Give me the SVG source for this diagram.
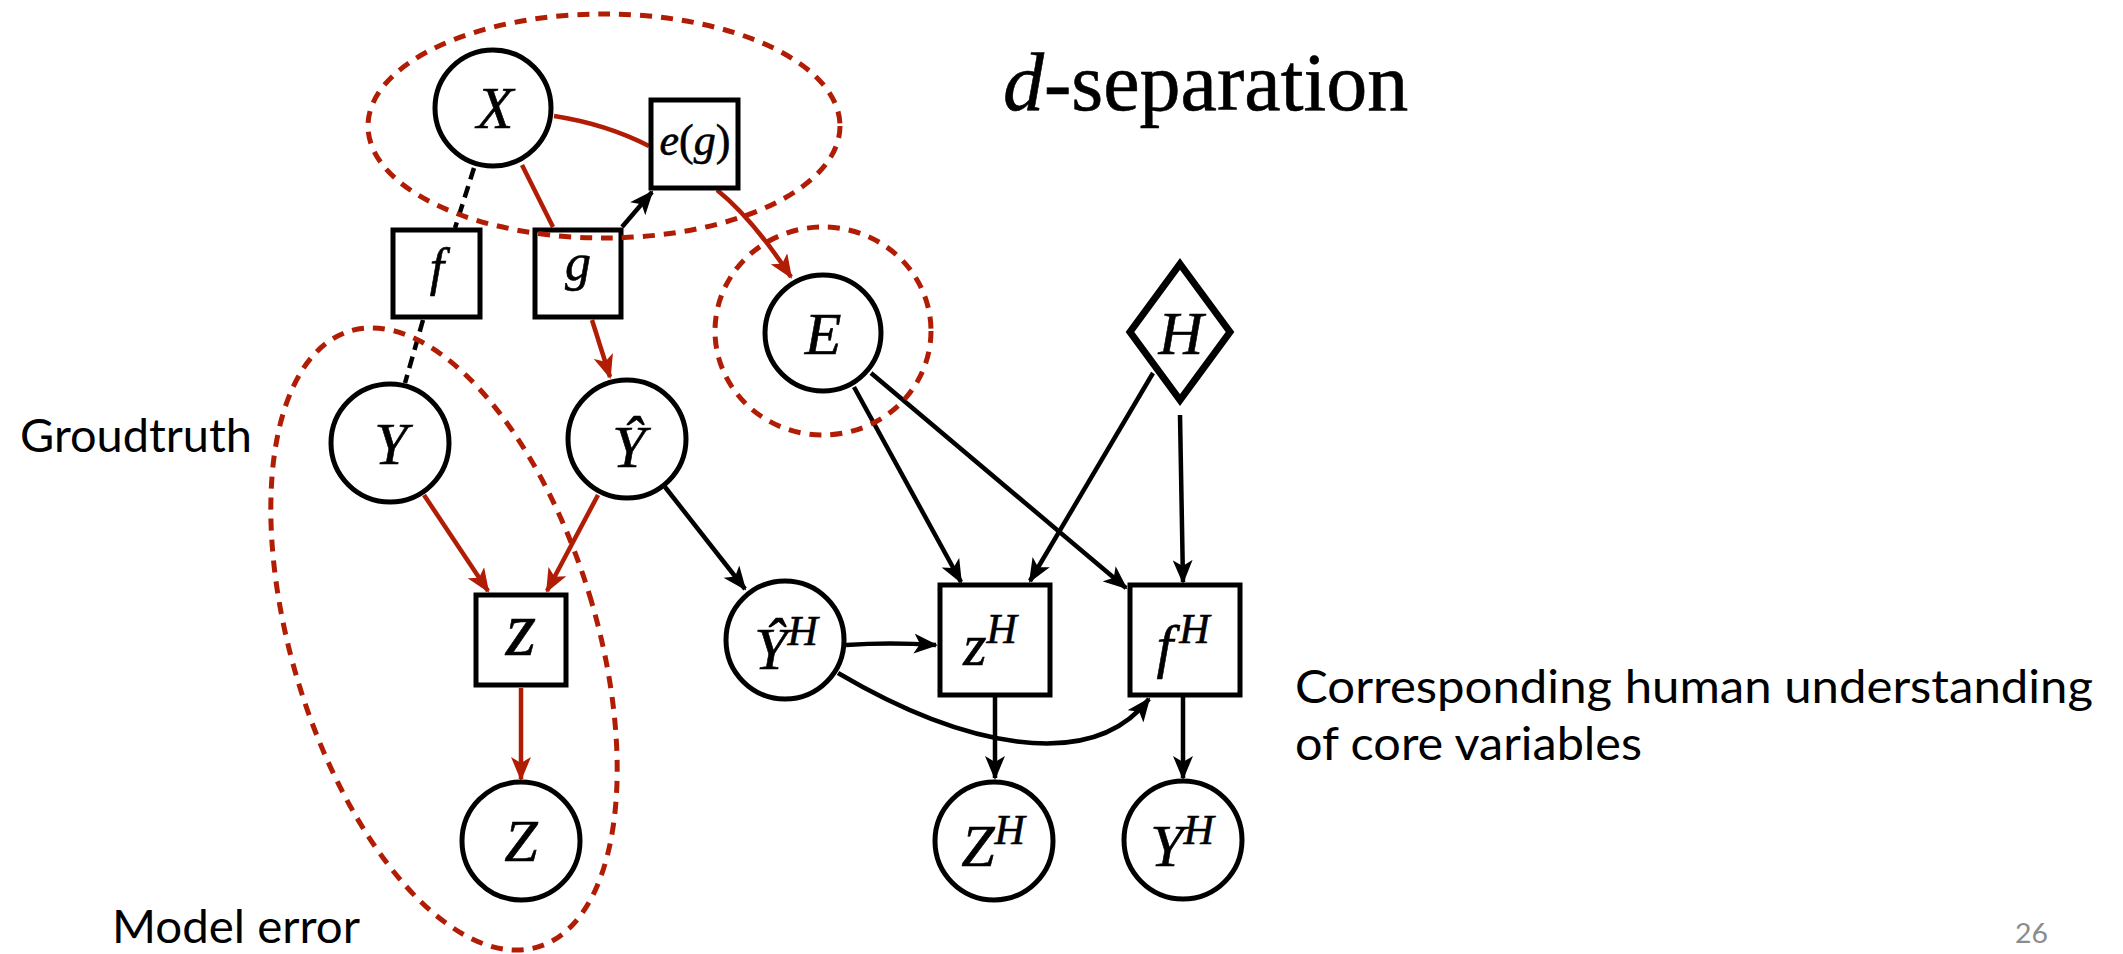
<svg xmlns="http://www.w3.org/2000/svg" width="2123" height="954" viewBox="0 0 2123 954">
  <style>
    .node { fill: #fff; stroke: #000; stroke-width: 5; }
    .diamond { fill: #fff; stroke: #000; stroke-width: 7; stroke-linejoin: miter; stroke-miterlimit: 10; }
    .lbl { font-family: "Liberation Serif", "DejaVu Serif", serif; font-style: italic; font-size: 60px; fill: #000; stroke: #000; stroke-width: 0.6; text-anchor: middle; }
    .sup { font-size: 42px; }
    .up { font-style: normal; }
    .edge { fill: none; stroke: #000; stroke-width: 4.5; }
    .edge.red { stroke: #b11d04; }
    .edge.dash { stroke-dasharray: 12 7; }
    .arrow { marker-end: url(#ah); }
    .arrow.red { marker-end: url(#ah-red); }
    .region { fill: none; stroke: #b11d04; stroke-width: 5; stroke-dasharray: 12 9; }
    .note { font-family: Lato, "Open Sans", "Liberation Sans", sans-serif; font-size: 46px; fill: #000; }
    .title { font-family: "Liberation Serif", "DejaVu Serif", serif; font-size: 82px; fill: #000; stroke: #000; stroke-width: 0.6; }
  </style>
  <defs>
    <marker id="ah" viewBox="0 0 24 20" refX="22" refY="10" markerWidth="24" markerHeight="20" markerUnits="userSpaceOnUse" orient="auto">
      <path d="M0,0 L24,10 L0,20 L6,10 Z" fill="#000"/>
    </marker>
    <marker id="ah-red" viewBox="0 0 24 20" refX="22" refY="10" markerWidth="24" markerHeight="20" markerUnits="userSpaceOnUse" orient="auto">
      <path d="M0,0 L24,10 L0,20 L6,10 Z" fill="#b11d04"/>
    </marker>
  </defs>

  <rect width="2123" height="954" fill="#fff"/>

  <!-- connectors -->
  <g id="connectors">
    <path class="edge red" d="M554,116 Q606,124 649,146"/>
    <path class="edge red" d="M522,165 L553,227"/>
    <path class="edge dash" d="M474,168 L455,228"/>
    <path class="edge arrow" d="M622,227 L652,192"/>
    <path class="edge red arrow red" d="M717,190 Q752,218 791,277"/>
    <path class="edge red arrow red" d="M592,320 L610,377"/>
    <path class="edge dash" d="M423,320 L405,383"/>
    <path class="edge red arrow red" d="M424,495 L488,591"/>
    <path class="edge red arrow red" d="M598,495 L547,591"/>
    <path class="edge red arrow red" d="M521,688 L521,779"/>
    <path class="edge arrow" d="M665,487 L745,589"/>
    <path class="edge arrow" d="M846,645 Q890,642 936,645"/>
    <path class="edge arrow" d="M838,673 C960,745 1090,775 1149,699"/>
    <path class="edge arrow" d="M854,387 L961,582"/>
    <path class="edge arrow" d="M871,373 L1126,588"/>
    <path class="edge arrow" d="M1153,373 L1030,581"/>
    <path class="edge arrow" d="M1180,415 L1183,582"/>
    <path class="edge arrow" d="M995,697 L995,778"/>
    <path class="edge arrow" d="M1183,697 L1183,778"/>
  </g>

  <!-- nodes -->
  <g id="node-X">
    <circle class="node" cx="493" cy="108" r="58"/>
    <text class="lbl" x="495" y="128">X</text>
  </g>
  <g id="node-eg">
    <rect class="node" x="651" y="100" width="87" height="88"/>
    <text class="lbl" x="695" y="155" style="font-size:44px">e<tspan class="up">(</tspan>g<tspan class="up">)</tspan></text>
  </g>
  <g id="node-f">
    <rect class="node" x="393" y="230" width="87" height="87"/>
    <text class="lbl" x="437" y="285" style="font-size:52px">f</text>
  </g>
  <g id="node-g">
    <rect class="node" x="535" y="230" width="86" height="87"/>
    <text class="lbl" x="578" y="280" style="font-size:52px">g</text>
  </g>
  <g id="node-E">
    <circle class="node" cx="823" cy="333" r="58"/>
    <text class="lbl" x="823" y="354">E</text>
  </g>
  <g id="node-H">
    <polygon class="diamond" points="1180,264 1230,332 1180,400 1130,332"/>
    <text class="lbl" x="1181" y="354" style="font-size:62px">H</text>
  </g>
  <g id="node-Y">
    <circle class="node" cx="390" cy="443" r="59"/>
    <text class="lbl" x="391" y="464">Y</text>
  </g>
  <g id="node-Yhat">
    <circle class="node" cx="627" cy="439" r="59"/>
    <text class="lbl" x="629" y="467">Ŷ</text>
  </g>
  <g id="node-z">
    <rect class="node" x="476" y="595" width="90" height="90"/>
    <text class="lbl" x="521" y="655" style="font-size:78px">z</text>
  </g>
  <g id="node-Z">
    <circle class="node" cx="521" cy="841" r="59"/>
    <text class="lbl" x="521" y="861">Z</text>
  </g>
  <g id="node-YhatH">
    <circle class="node" cx="785" cy="640" r="59"/>
    <text class="lbl" x="786" y="669">Ŷ<tspan class="sup" dy="-24">H</tspan></text>
  </g>
  <g id="node-zH">
    <rect class="node" x="940" y="585" width="110" height="110"/>
    <text class="lbl" x="990" y="665">z<tspan class="sup" dy="-22">H</tspan></text>
  </g>
  <g id="node-fH">
    <rect class="node" x="1130" y="585" width="110" height="110"/>
    <text class="lbl" x="1183" y="666">f<tspan class="sup" dx="6" dy="-23">H</tspan></text>
  </g>
  <g id="node-ZH">
    <circle class="node" cx="994" cy="841" r="59"/>
    <text class="lbl" x="993" y="866">Z<tspan class="sup" dy="-22">H</tspan></text>
  </g>
  <g id="node-YH">
    <circle class="node" cx="1183" cy="840" r="59"/>
    <text class="lbl" x="1182" y="866">Y<tspan class="sup" dy="-22">H</tspan></text>
  </g>

  <!-- highlighted regions -->
  <g id="regions">
    <ellipse class="region" cx="604" cy="126" rx="236" ry="112"/>
    <ellipse class="region" cx="823" cy="331" rx="108" ry="104"/>
    <ellipse class="region" cx="444" cy="639" rx="152" ry="322" transform="rotate(-17 444 639)"/>
  </g>

  <!-- labels -->
  <g id="labels">
    <text class="title" x="1003" y="110"><tspan font-style="italic">d</tspan>-separation</text>
    <text class="note" x="20" y="452" textLength="232" lengthAdjust="spacingAndGlyphs">Groudtruth</text>
    <text class="note" x="112" y="943" textLength="248" lengthAdjust="spacingAndGlyphs">Model error</text>
    <text class="note" x="1295" y="703" textLength="798" lengthAdjust="spacingAndGlyphs">Corresponding human understanding</text>
    <text class="note" x="1295" y="760" textLength="347" lengthAdjust="spacingAndGlyphs">of core variables</text>
    <text x="2015" y="943" font-family="Lato, 'Liberation Sans', sans-serif" font-size="27" fill="#8c8c8c" textLength="33" lengthAdjust="spacingAndGlyphs">26</text>
  </g>
</svg>
